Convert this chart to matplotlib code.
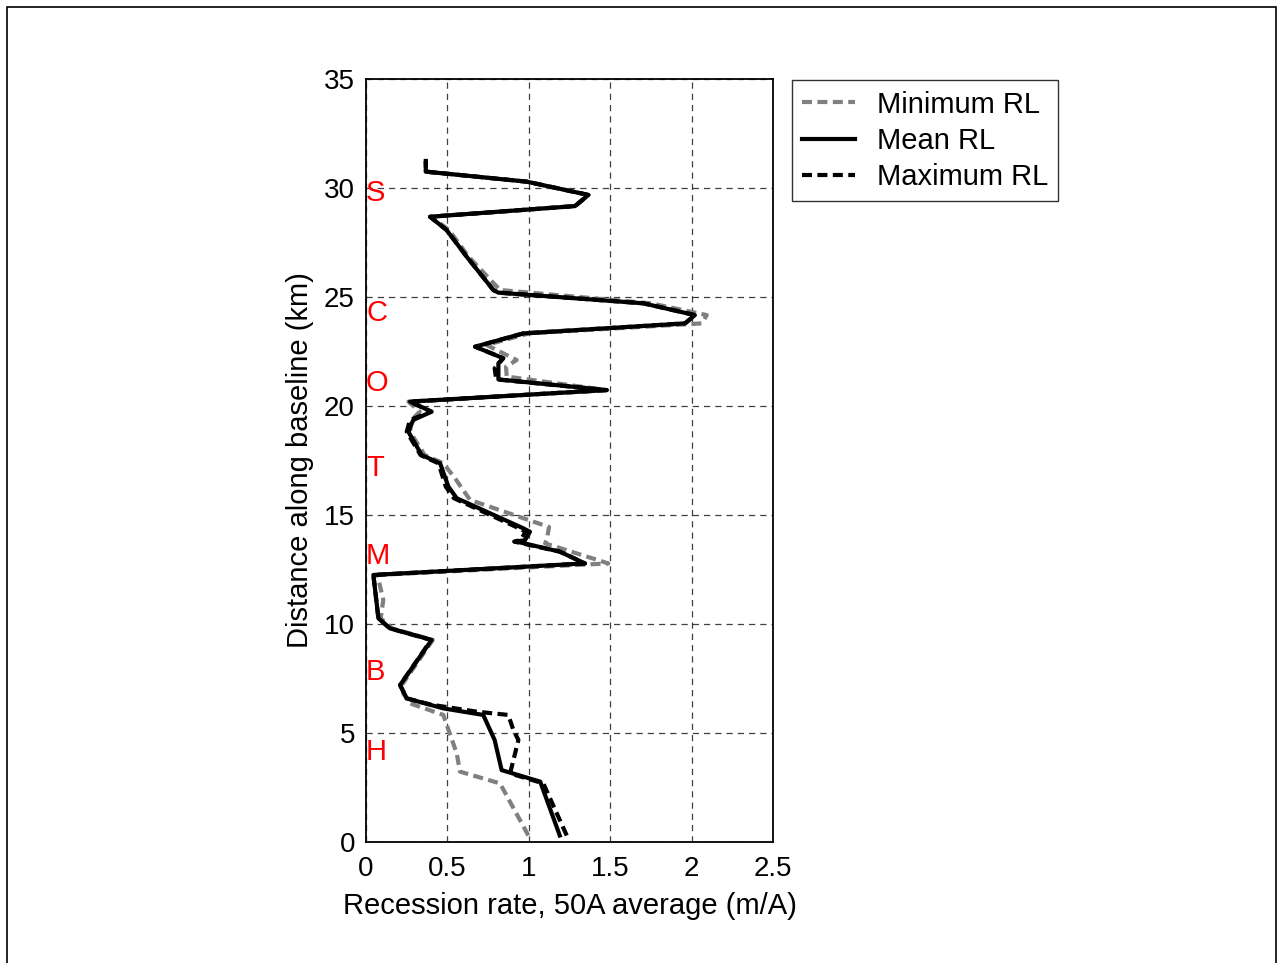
import matplotlib
matplotlib.use("Agg")
import matplotlib.pyplot as plt
from matplotlib.patches import Rectangle

plt.rcParams['font.family'] = ['Liberation Sans', 'DejaVu Sans']

# Mean RL
mean_dist = [0.3, 2.77, 3.30, 4.68, 5.83, 6.13, 6.59, 7.20, 9.27, 9.80, 10.26, 12.25,
             12.78, 13.32, 13.78, 13.85, 14.23, 14.39, 15.77, 16.30, 17.37, 17.75,
             18.82, 19.36, 19.74, 20.20, 20.73, 21.22, 21.96, 22.19, 22.72, 23.33,
             23.79, 24.17, 24.71, 25.20, 25.32, 26.85, 28.07, 28.68, 29.17, 29.68,
             30.29, 30.75, 31.24]
mean_rate = [1.19, 1.07, 0.833, 0.79, 0.72, 0.475, 0.25, 0.209, 0.403, 0.147, 0.076, 0.045,
             1.345, 1.19, 0.925, 0.977, 1.007, 0.966, 0.557, 0.506, 0.455, 0.342,
             0.26, 0.29, 0.403, 0.270, 1.478, 0.813, 0.813, 0.843, 0.670, 0.966,
             1.96, 2.02, 1.703, 0.813, 0.782, 0.618, 0.495, 0.393, 1.284, 1.366,
             0.987, 0.367, 0.367]

# Maximum RL
max_dist = [0.3, 2.69, 3.15, 4.68, 5.14, 5.83, 5.98, 6.30, 6.59, 7.20, 9.27, 9.80, 10.26,
            12.25, 12.78, 13.32, 13.78, 13.85, 14.23, 14.39, 15.77, 16.30, 17.37, 17.75,
            18.82, 19.36, 19.74, 20.20, 20.73, 21.22, 21.73, 22.19, 22.72, 23.33,
            23.79, 24.17, 24.71, 25.20, 25.32, 26.85, 28.07, 28.68, 29.17, 29.68,
            30.29, 30.75, 31.24]
max_rate = [1.233, 1.089, 0.885, 0.936, 0.905, 0.874, 0.68, 0.40, 0.25, 0.209, 0.40, 0.147, 0.076,
            0.045, 1.345, 1.19, 0.91, 0.95, 0.98, 0.94, 0.54, 0.49, 0.445, 0.335,
            0.25, 0.27, 0.40, 0.27, 1.478, 0.80, 0.79, 0.843, 0.670, 0.966,
            1.96, 2.02, 1.703, 0.813, 0.782, 0.618, 0.495, 0.393, 1.284, 1.366,
            0.987, 0.367, 0.367]

# Minimum RL
min_dist = [0.3, 2.69, 3.23, 4.07, 5.60, 5.83, 6.36, 6.80, 7.20, 9.27, 9.80, 10.26, 11.10,
            12.25, 12.78, 13.70, 13.85, 14.45, 15.69, 16.68, 17.37, 17.75, 18.82, 19.36,
            19.74, 20.20, 20.73, 21.35, 21.80, 22.11, 22.80, 23.33, 23.79, 24.17, 24.71,
            25.32, 26.85, 28.07, 28.68, 29.17, 29.68, 30.29, 30.75, 31.24]
min_rate = [0.997, 0.823, 0.577, 0.557, 0.485, 0.475, 0.27, 0.23, 0.22, 0.41, 0.16, 0.09, 0.106,
            0.07, 1.488, 1.10, 1.11, 1.124, 0.639, 0.547, 0.475, 0.36, 0.27, 0.28,
            0.33, 0.26, 1.478, 0.864, 0.86, 0.925, 0.74, 1.0, 2.062, 2.093, 1.75,
            0.823, 0.63, 0.51, 0.40, 1.284, 1.366, 0.987, 0.367, 0.367]

site_labels = ['S', 'C', 'O', 'T', 'M', 'B', 'H']
site_dist = [29.77, 24.27, 21.06, 17.16, 13.12, 7.8, 4.13]

x_ticks = [0, 0.5, 1, 1.5, 2, 2.5]
x_ticklabels = ['0', '0.5', '1', '1.5', '2', '2.5']
y_ticks = [0, 5, 10, 15, 20, 25, 30, 35]

fig = plt.figure(figsize=(12.83, 9.63), dpi=100)
fig.patches.append(Rectangle((0.0055, -0.01), 0.989, 1.003, transform=fig.transFigure,
                             fill=False, edgecolor='black', linewidth=1.2))
ax = fig.add_axes([0.2853, 0.1256, 0.3172, 0.7924])

lw = 3.0
dash = (0, (2.4, 1.3))
ax.plot(min_rate, min_dist, color='#808080', linestyle=dash, linewidth=lw, label='Minimum RL')
ax.plot(mean_rate, mean_dist, color='black', linestyle='-', linewidth=lw, label='Mean RL')
ax.plot(max_rate, max_dist, color='black', linestyle=dash, linewidth=lw, label='Maximum RL')

for lab, d in zip(site_labels, site_dist):
    ax.text(0.0, d, lab, color='red', fontsize=21, va='center', ha='left')

ax.set_xlim(0, 2.5)
ax.set_ylim(0, 35)
ax.set_xticks(x_ticks)
ax.set_xticklabels(x_ticklabels)
ax.set_yticks(y_ticks)
ax.tick_params(labelsize=20, direction='in', length=0, width=1)
ax.tick_params(axis='x', pad=10)
ax.tick_params(axis='y', pad=8)
ax.grid(True, color='black', linestyle=(0, (5, 4)), linewidth=0.9, alpha=0.75)
for s in ax.spines.values():
    s.set_linewidth(1.3)
ax.set_xlabel('Recession rate, 50A average (m/A)', fontsize=21, labelpad=7)
ax.set_ylabel('Distance along baseline (km)', fontsize=21, labelpad=7)

leg = ax.legend(loc='upper left', bbox_to_anchor=(1.047, 0.998), fontsize=21, frameon=True,
                fancybox=False, edgecolor='black', handlelength=1.8, borderpad=0.35,
                labelspacing=0.28, handletextpad=0.75, borderaxespad=0.0)
leg.get_frame().set_linewidth(1.0)

fig.savefig('out.png', dpi=100)
